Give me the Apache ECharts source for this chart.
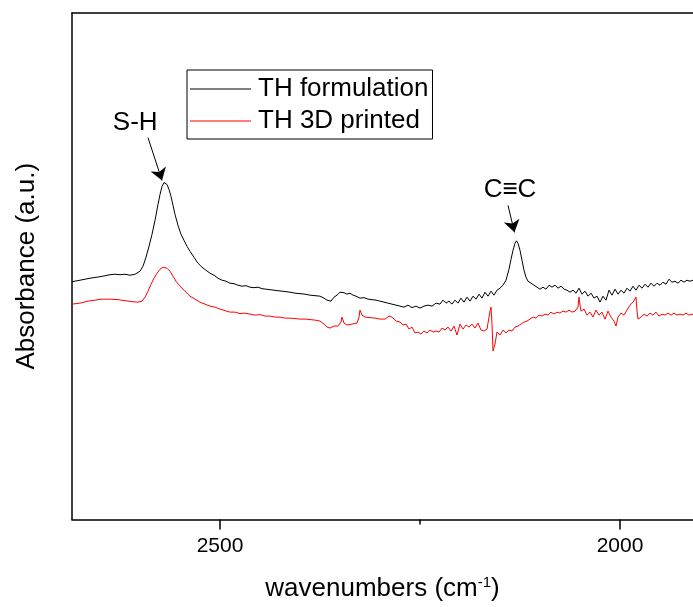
<!DOCTYPE html>
<html>
<head>
<meta charset="utf-8">
<script src="https://cdn.jsdelivr.net/npm/echarts@6/dist/echarts.min.js"></script>
<style>
  html, body { margin: 0; padding: 0; background: #fff; }
  #chart { width: 693px; height: 607px; }
</style>
</head>
<body>
<div id="chart"></div>
<script>
// FTIR spectra, wavenumber (cm-1) vs absorbance (a.u.)
const seriesNames = ['TH formulation', 'TH 3D printed'];
const majorTicks = [2500, 2000];
const minorTicks = [2250];

// TH formulation: [wavenumber, absorbance]
const formulation = [
  [2685,2.385],[2675,2.40],[2662.5,2.42],[2650,2.435],[2637.5,2.455],[2631.25,2.46],[2625,2.455],
  [2618.75,2.46],[2612.5,2.45],[2606.25,2.46],[2600,2.49],[2596.25,2.54],[2592.5,2.63],[2588.75,2.74],
  [2585,2.86],[2581.25,3.00],[2577.5,3.16],[2575,3.26],[2572.5,3.34],[2570,3.38],[2568.75,3.385],
  [2566.25,3.36],[2563.75,3.31],[2561.25,3.24],[2558.75,3.15],[2556.25,3.06],[2552.5,2.95],
  [2548.75,2.86],[2545,2.80],[2541.25,2.74],[2537.5,2.69],[2532.5,2.63],[2527.5,2.57],[2522.5,2.53],
  [2517.5,2.50],[2512.5,2.47],[2507.5,2.45],[2502.5,2.42],[2497.5,2.40],[2492.5,2.39],[2487.5,2.37],
  [2482.5,2.365],[2477.5,2.35],[2472.5,2.34],[2467.5,2.345],[2462.5,2.33],[2457.5,2.325],[2452.5,2.33],
  [2447.5,2.315],[2442.5,2.31],[2437.5,2.305],[2432.5,2.30],[2427.5,2.295],[2422.5,2.29],[2417.5,2.285],
  [2412.5,2.28],[2406.25,2.27],[2400,2.265],[2393.75,2.26],[2387.5,2.25],[2381.25,2.245],[2375,2.24],
  [2370,2.22],[2366.25,2.20],[2363.75,2.18],[2361.25,2.19],[2357.5,2.23],[2353.75,2.25],[2350,2.28],
  [2347.5,2.26],[2345,2.275],[2341.25,2.26],[2337.5,2.27],[2333.75,2.25],[2330,2.24],[2325,2.22],
  [2320,2.225],[2315,2.21],[2310,2.205],[2305,2.20],[2300,2.19],[2295,2.18],[2290,2.17],[2285,2.16],
  [2280,2.15],[2275,2.14],[2270,2.13],[2265,2.15],[2260,2.125],[2255,2.14],[2250,2.12],[2245,2.14],
  [2240,2.15],[2235,2.14],[2230,2.17],[2225,2.16],[2221.25,2.20],[2217.5,2.17],[2213.75,2.19],
  [2210,2.16],[2206.25,2.20],[2202.5,2.17],[2198.75,2.22],[2195,2.18],[2191.25,2.23],[2187.5,2.19],
  [2183.75,2.24],[2180,2.21],[2176.25,2.26],[2172.5,2.22],[2168.75,2.28],[2165,2.24],[2161.25,2.29],
  [2157.5,2.25],[2153.75,2.30],[2150,2.32],[2146.25,2.35],[2142.5,2.40],[2138.75,2.51],[2136.25,2.61],
  [2133.75,2.70],[2131.25,2.77],[2129.4,2.795],[2127.5,2.77],[2125,2.70],[2122.5,2.60],[2120,2.50],
  [2117.5,2.43],[2115,2.39],[2111.25,2.37],[2107.5,2.35],[2103.75,2.33],[2100,2.31],[2096.25,2.33],
  [2092.5,2.31],[2088.75,2.35],[2085,2.33],[2081.25,2.35],[2077.5,2.32],[2073.75,2.34],[2070,2.31],
  [2066.25,2.30],[2062.5,2.28],[2058.75,2.30],[2055,2.27],[2051.25,2.32],[2047.5,2.26],[2043.75,2.29],
  [2040,2.24],[2036.25,2.27],[2032.5,2.22],[2028.75,2.24],[2025,2.18],[2021.25,2.24],[2017.5,2.20],
  [2013.75,2.30],[2010,2.25],[2006.25,2.31],[2002.5,2.26],[1998.75,2.30],[1995,2.27],[1991.25,2.32],
  [1987.5,2.29],[1983.75,2.34],[1980,2.30],[1976.25,2.35],[1972.5,2.32],[1968.75,2.36],[1965,2.33],
  [1961.25,2.37],[1957.5,2.34],[1953.75,2.37],[1950,2.35],[1946.25,2.38],[1942.5,2.36],[1938.75,2.41],
  [1935,2.38],[1931.25,2.39],[1927.5,2.37],[1923.75,2.40],[1920,2.38],[1916.25,2.40],[1912.5,2.39],
  [1908.75,2.40]
];

// TH 3D printed: [wavenumber, absorbance]
const printed = [
  [2685,2.16],[2675,2.17],[2665,2.19],[2656.25,2.20],[2647.5,2.21],[2637.5,2.21],[2627.5,2.205],
  [2618.75,2.195],[2610,2.185],[2602.5,2.18],[2597.5,2.19],[2593.75,2.23],[2590,2.29],[2586.25,2.36],
  [2582.5,2.42],[2578.75,2.47],[2575,2.51],[2571.25,2.53],[2568.75,2.535],[2566.25,2.52],[2562.5,2.49],
  [2558.75,2.44],[2555,2.39],[2550,2.34],[2543.75,2.29],[2537.5,2.24],[2531.25,2.21],[2525,2.18],
  [2518.75,2.16],[2512.5,2.14],[2506.25,2.13],[2500,2.11],[2493.75,2.095],[2487.5,2.08],[2481.25,2.08],
  [2475,2.065],[2468.75,2.07],[2462.5,2.06],[2456.25,2.05],[2450,2.055],[2443.75,2.04],[2437.5,2.04],
  [2431.25,2.03],[2425,2.03],[2418.75,2.02],[2412.5,2.02],[2406.25,2.015],[2400,2.01],[2393.75,2.01],
  [2387.5,2.005],[2381.25,2.00],[2375,1.99],[2370,1.96],[2366.25,1.93],[2362.5,1.92],[2357.5,1.94],
  [2352.5,1.94],[2348.75,1.98],[2347.5,2.03],[2345,1.97],[2341.25,1.95],[2335,1.96],[2328.75,1.97],
  [2326.25,2.03],[2325,2.10],[2322.5,2.05],[2318.75,2.03],[2312.5,2.025],[2306.25,2.02],[2300,2.01],
  [2293.75,2.01],[2288.75,2.04],[2285,2.03],[2280,1.99],[2275,1.98],[2271.25,1.95],[2267.5,1.96],
  [2263.75,1.91],[2260,1.93],[2256.25,1.87],[2252.5,1.88],[2248.75,1.86],[2245,1.89],[2241.25,1.87],
  [2237.5,1.90],[2233.75,1.88],[2230,1.89],[2226.25,1.88],[2222.5,1.92],[2218.75,1.90],[2215,1.93],
  [2211.25,1.89],[2207.5,1.94],[2203.75,1.85],[2200,1.96],[2196.25,1.91],[2192.5,1.95],[2188.75,1.93],
  [2185,1.96],[2181.25,1.92],[2177.5,1.97],[2173.75,1.90],[2170,1.89],[2166.25,1.91],[2162.5,2.09],
  [2161.25,2.13],[2160,1.96],[2158.75,1.69],[2156.25,1.76],[2153.75,1.88],[2150,1.85],[2146.25,1.90],
  [2142.5,1.87],[2138.75,1.90],[2135,1.89],[2131.25,1.93],[2127.5,1.94],[2123.75,1.96],[2120,1.98],
  [2116.25,1.99],[2112.5,2.01],[2108.75,2.03],[2105,2.02],[2101.25,2.05],[2097.5,2.04],[2093.75,2.06],
  [2090,2.05],[2086.25,2.08],[2082.5,2.06],[2078.75,2.08],[2075,2.07],[2071.25,2.09],[2067.5,2.08],
  [2063.75,2.10],[2060,2.08],[2056.25,2.09],[2052.5,2.13],[2051.25,2.23],[2050,2.15],[2048.75,2.09],
  [2045,2.11],[2041.25,2.05],[2037.5,2.08],[2033.75,2.03],[2030,2.10],[2026.25,2.05],[2022.5,2.08],
  [2018.75,2.01],[2015,2.09],[2011.25,2.03],[2007.5,1.99],[2005,1.94],[2002.5,2.03],[1998.75,2.07],
  [1995,2.05],[1991.25,2.10],[1987.5,2.15],[1983.75,2.18],[1980,2.23],[1978.75,2.09],[1977.5,2.01],
  [1973.75,2.03],[1970,2.06],[1966.25,2.04],[1962.5,2.07],[1958.75,2.05],[1955,2.08],[1951.25,2.04],
  [1947.5,2.06],[1943.75,2.05],[1940,2.07],[1936.25,2.05],[1932.5,2.07],[1928.75,2.05],[1925,2.06],
  [1921.25,2.05],[1917.5,2.07],[1913.75,2.05],[1908.75,2.06]
];

// Band annotations: label position, arrow start, arrow tip
const bandLabels = [
  { text: 'S-H', at: [2606, 3.98], from: [2590, 3.83], to: [2572.5, 3.40] },
  { text: 'C\u2261C', at: [2137.5, 3.31], from: [2140, 3.15], to: [2131.9, 2.88] }
];

const X_MIN = 1908.75, X_MAX = 2685, Y_MIN = 0, Y_MAX = 5.08;
const FONT = '"Liberation Sans", Arial, sans-serif';

const chart = echarts.init(document.getElementById('chart'), null, { renderer: 'canvas' });

const baseX = { type: 'value', min: X_MIN, max: X_MAX, inverse: true, splitLine: { show: false } };

chart.setOption({
  animation: false,
  backgroundColor: '#fff',
  grid: { left: 72, right: 0, top: 13, bottom: 86 },
  legend: {
    orient: 'vertical',
    left: 187, top: 70,
    padding: [6, 4, 5, 3],
    itemGap: 6,
    icon: 'rect',
    itemWidth: 61,
    itemHeight: 1,
    borderColor: '#000',
    borderWidth: 1,
    borderRadius: 0,
    data: seriesNames,
    textStyle: { fontFamily: FONT, fontSize: 26, color: '#000', padding: [0, 0, 0, 2] }
  },
  xAxis: [
    Object.assign({}, baseX, {
      position: 'bottom',
      name: 'wavenumbers (cm{sup|-1})',
      nameLocation: 'middle',
      nameGap: 56,
      nameTextStyle: {
        fontFamily: FONT, fontSize: 26, color: '#000',
        rich: { sup: { fontFamily: FONT, fontSize: 15, color: '#000', verticalAlign: 'top', padding: [0, 0, 12, 0] } }
      },
      axisLine: { show: true, lineStyle: { color: '#000', width: 1.5 } },
      axisTick: { show: true, length: 10, inside: false, customValues: majorTicks, lineStyle: { color: '#000', width: 1.5 } },
      axisLabel: {
        show: true, customValues: majorTicks, margin: 16,
        fontFamily: FONT, fontSize: 21, color: '#000',
        formatter: v => String(v)
      }
    }),
    Object.assign({}, baseX, {
      position: 'bottom',
      axisLine: { show: false },
      axisTick: { show: true, length: 5, customValues: minorTicks, lineStyle: { color: '#000', width: 1.5 } },
      axisLabel: { show: false }
    }),
    Object.assign({}, baseX, {
      position: 'top',
      axisLine: { show: true, lineStyle: { color: '#000', width: 1.5 } },
      axisTick: { show: false },
      axisLabel: { show: false }
    })
  ],
  yAxis: {
    type: 'value', min: Y_MIN, max: Y_MAX,
    name: 'Absorbance (a.u.)',
    nameLocation: 'middle',
    nameGap: 32,
    nameTextStyle: { fontFamily: FONT, fontSize: 26, color: '#000' },
    axisLine: { show: true, lineStyle: { color: '#000', width: 1.5 } },
    axisTick: { show: false },
    axisLabel: { show: false },
    splitLine: { show: false }
  },
  series: [
    {
      name: seriesNames[0], type: 'line', xAxisIndex: 0, data: formulation,
      symbol: 'none', showSymbol: false, color: '#000',
      lineStyle: { color: '#000', width: 1 },
      markLine: {
        silent: true, symbol: ['none', 'arrow'], symbolSize: 12,
        label: { show: false },
        itemStyle: { color: '#000' },
        lineStyle: { color: '#000', width: 1, type: 'solid' },
        data: bandLabels.map(b => [{ coord: b.from }, { coord: b.to }])
      },
      markPoint: {
        silent: true, symbol: 'circle', symbolSize: 0,
        itemStyle: { color: 'transparent' },
        label: { show: true, position: 'inside', fontFamily: FONT, fontSize: 26, color: '#000' },
        data: bandLabels.map(b => ({ coord: b.at, value: b.text, label: { formatter: b.text } }))
      }
    },
    {
      name: seriesNames[1], type: 'line', xAxisIndex: 0, data: printed,
      symbol: 'none', showSymbol: false, color: '#ff0000',
      lineStyle: { color: '#ff0000', width: 1 }
    }
  ]
});
</script>
</body>
</html>
